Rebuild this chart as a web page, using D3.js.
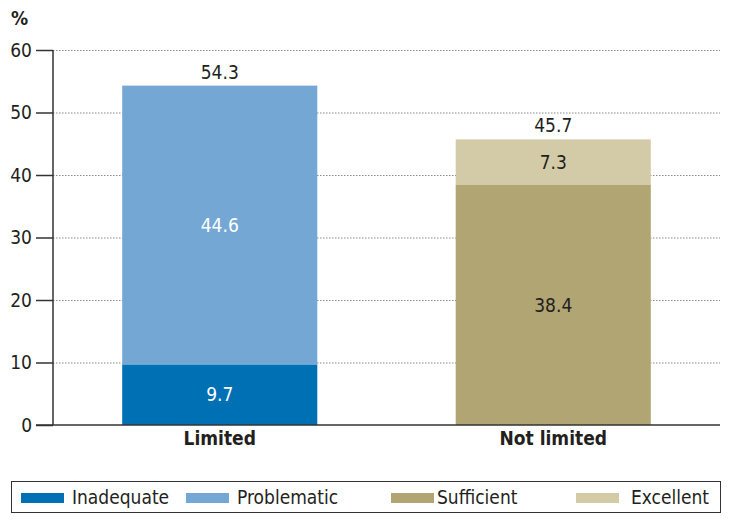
<!DOCTYPE html>
<html>
<head>
<meta charset="utf-8">
<script src="https://cdn.jsdelivr.net/npm/d3@7"></script>
<style>
  body { margin: 0; background: #fff; }
  svg text { font-family: "Liberation Sans Narrow", "DejaVu Sans Condensed", sans-serif; fill: #231f20; }
</style>
</head>
<body>
<svg id="svg" width="730" height="521"></svg>
<script>
// chart data
var groups = ["Limited", "Not limited"];
var seriesNames = ["Inadequate", "Problematic", "Sufficient", "Excellent"];
var seriesColors = ["#0070b4", "#74a7d4", "#b0a573", "#d3cba8"];
var inadequate = [9.7, 0];
var problematic = [44.6, 0];
var sufficient = [0, 38.4];
var excellent = [0, 7.3];
var totals = [54.3, 45.7];
var yTicks = [0, 10, 20, 30, 40, 50, 60];

var svg = d3.select("#svg");

var plotLeft = 53, plotRight = 720, plotTop = 50, plotBottom = 425;

var x = d3.scaleBand()
    .domain(groups)
    .range([plotLeft, plotRight])
    .paddingInner(0.415)
    .paddingOuter(0.2075);

var y = d3.scaleLinear()
    .domain([0, 60])
    .range([plotBottom, plotTop]);

// gridlines
svg.append("g")
  .selectAll("line")
  .data(yTicks.filter(function(d){ return d > 0; }))
  .enter().append("line")
    .attr("x1", plotLeft).attr("x2", plotRight)
    .attr("y1", function(d){ return y(d) + 0.5; })
    .attr("y2", function(d){ return y(d) + 0.5; })
    .attr("stroke", "#8a8a8a")
    .attr("stroke-width", 1)
    .attr("stroke-dasharray", "1.5,1.5");

// stacked bars
var rows = groups.map(function(g, i){
    return {group: g, Inadequate: inadequate[i], Problematic: problematic[i],
            Sufficient: sufficient[i], Excellent: excellent[i]};
});
var stacked = d3.stack().keys(seriesNames)(rows);

stacked.forEach(function(layer, k){
    svg.append("g")
      .attr("fill", seriesColors[k])
      .selectAll("rect")
      .data(layer.filter(function(d){ return d[1] - d[0] > 0; }))
      .enter().append("rect")
        .attr("x", function(d){ return x(d.data.group); })
        .attr("width", x.bandwidth())
        .attr("y", function(d){ return y(d[1]); })
        .attr("height", function(d){ return y(d[0]) - y(d[1]); });

    svg.append("g")
      .selectAll("text")
      .data(layer.filter(function(d){ return d[1] - d[0] > 0; }))
      .enter().append("text")
        .attr("x", function(d){ return x(d.data.group) + x.bandwidth() / 2; })
        .attr("y", function(d){ return y((d[0] + d[1]) / 2); })
        .attr("dy", "0.35em")
        .attr("text-anchor", "middle")
        .style("font-size", "19px")
        .style("fill", k < 2 ? "#ffffff" : "#231f20")
        .text(function(d){ return (d[1] - d[0]).toFixed(1); });
});

// totals above bars
svg.append("g")
  .selectAll("text")
  .data(groups)
  .enter().append("text")
    .attr("x", function(d){ return x(d) + x.bandwidth() / 2; })
    .attr("y", function(d, i){ return y(totals[i]) - 7; })
    .attr("text-anchor", "middle")
    .style("font-size", "19px")
    .text(function(d, i){ return totals[i].toFixed(1); });

// y axis
var yAxis = svg.append("g")
    .attr("transform", "translate(" + plotLeft + ",0)")
    .call(d3.axisLeft(y).tickValues(yTicks).tickSize(17).tickPadding(4));
yAxis.select(".domain").remove();
yAxis.selectAll(".tick line").attr("stroke", "#333").attr("stroke-width", 1.5);
yAxis.selectAll(".tick text").style("font-size", "19px").attr("fill", "#231f20");

svg.append("line")
    .attr("x1", plotLeft).attr("x2", plotLeft)
    .attr("y1", plotTop).attr("y2", plotBottom)
    .attr("stroke", "#333").attr("stroke-width", 1.5);

svg.append("line")
    .attr("x1", plotLeft - 17).attr("x2", plotRight)
    .attr("y1", plotBottom).attr("y2", plotBottom)
    .attr("stroke", "#333").attr("stroke-width", 1.5);

svg.append("text")
    .attr("x", 11).attr("y", 25)
    .style("font-size", "19px")
    .style("font-weight", "bold")
    .text("%");

// x labels
svg.append("g")
  .selectAll("text")
  .data(groups)
  .enter().append("text")
    .attr("x", function(d){ return x(d) + x.bandwidth() / 2; })
    .attr("y", 445)
    .attr("text-anchor", "middle")
    .style("font-size", "19px")
    .style("font-weight", "bold")
    .text(function(d){ return d; });

// legend
svg.append("rect")
    .attr("x", 11.5).attr("y", 481.5)
    .attr("width", 709).attr("height", 31)
    .attr("fill", "none").attr("stroke", "#333").attr("stroke-width", 1);

var legendSwatchX = [21, 186, 391, 576];
var legendTextX = [72, 237, 437, 631];
var legend = svg.append("g")
  .selectAll("g")
  .data(seriesNames)
  .enter().append("g");
legend.append("rect")
    .attr("x", function(d, i){ return legendSwatchX[i]; })
    .attr("y", 493)
    .attr("width", 43).attr("height", 10)
    .attr("fill", function(d, i){ return seriesColors[i]; });
legend.append("text")
    .attr("x", function(d, i){ return legendTextX[i]; })
    .attr("y", 504)
    .style("font-size", "19px")
    .text(function(d){ return d; });
</script>
</body>
</html>
